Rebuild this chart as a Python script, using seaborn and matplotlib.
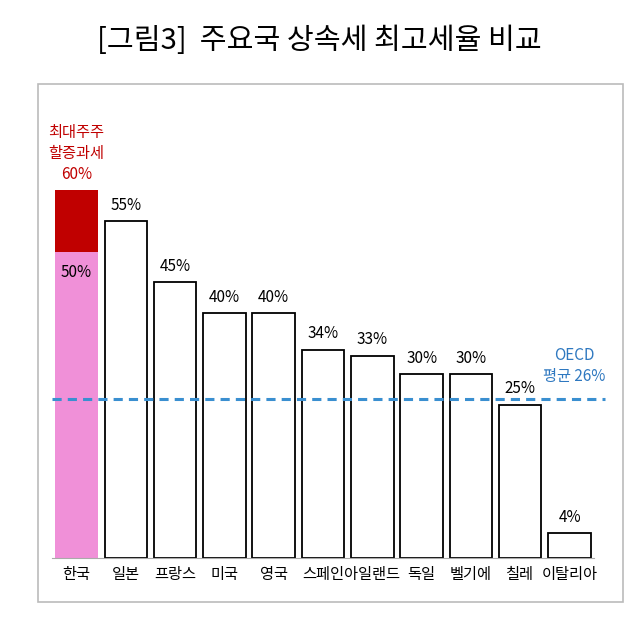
import matplotlib
matplotlib.use("Agg")
import matplotlib.pyplot as plt
import seaborn as sns
import pandas as pd
from matplotlib.patches import Rectangle

plt.rcParams['font.family'] = ['Noto Sans CJK JP', 'Noto Sans CJK KR', 'Noto Sans CJK SC', 'DejaVu Sans']

countries = ['한국', '일본', '프랑스', '미국', '영국', '스페인', '아일랜드', '독일', '벨기에', '칠레', '이탈리아']
rates = [50, 55, 45, 40, 40, 34, 33, 30, 30, 25, 4]
korea_extra = 10  # 최대주주 할증과세 (50 -> 60)
oecd_avg = 26

df = pd.DataFrame({'country': countries, 'rate': rates})

fig = plt.figure(figsize=(6.39, 6.24), dpi=100)
fig.text(0.5, 0.935, '[그림3]  주요국 상속세 최고세율 비교', ha='center', va='center',
         fontsize=21, color='black')
fig.patches.append(Rectangle((0.06, 0.035), 0.915, 0.83, transform=fig.transFigure,
                             fill=False, edgecolor='#bbbbbb', lw=1.2))

ax = fig.add_axes([0.081, 0.106, 0.849, 0.687])
colors = ['#f090d8'] + ['white'] * (len(countries) - 1)
sns.barplot(data=df, x='country', y='rate', hue='country', palette=colors, saturation=1,
            legend=False, width=0.86, edgecolor='black', linewidth=1.3, ax=ax)
ax.patches[0].set_edgecolor('none')
ax.bar(0, korea_extra, bottom=rates[0], width=0.86, color='#c00000')

for i, v in enumerate(rates):
    if i == 0:
        ax.text(i, v - 2, f'{v}%', ha='center', va='top', fontsize=11)
    else:
        ax.text(i, v + 1.2, f'{v}%', ha='center', va='bottom', fontsize=11)
ax.text(0, rates[0] + korea_extra + 1.2, '최대주주\n할증과세\n60%', ha='center', va='bottom',
        fontsize=11, color='#c00000', linespacing=1.3)

ax.axhline(oecd_avg, color='#3a8fd0', ls=(0, (3, 2)), lw=2.2, xmin=0, xmax=1.02, clip_on=False)
ax.text(10.1, oecd_avg + 2.3, 'OECD\n평균 26%', ha='center', va='bottom', fontsize=11,
        color='#2e78c0', linespacing=1.3)

ax.set_ylim(0, 70)
ax.set_xlim(-0.5, 10.5)
ax.set_xlabel('')
ax.set_ylabel('')
ax.set_yticks([])
for s in ['top', 'right', 'left']:
    ax.spines[s].set_visible(False)
ax.spines['bottom'].set_color('#aaaaaa')
ax.tick_params(axis='x', length=0, labelsize=11, pad=6)

fig.savefig('out.png', dpi=100)
